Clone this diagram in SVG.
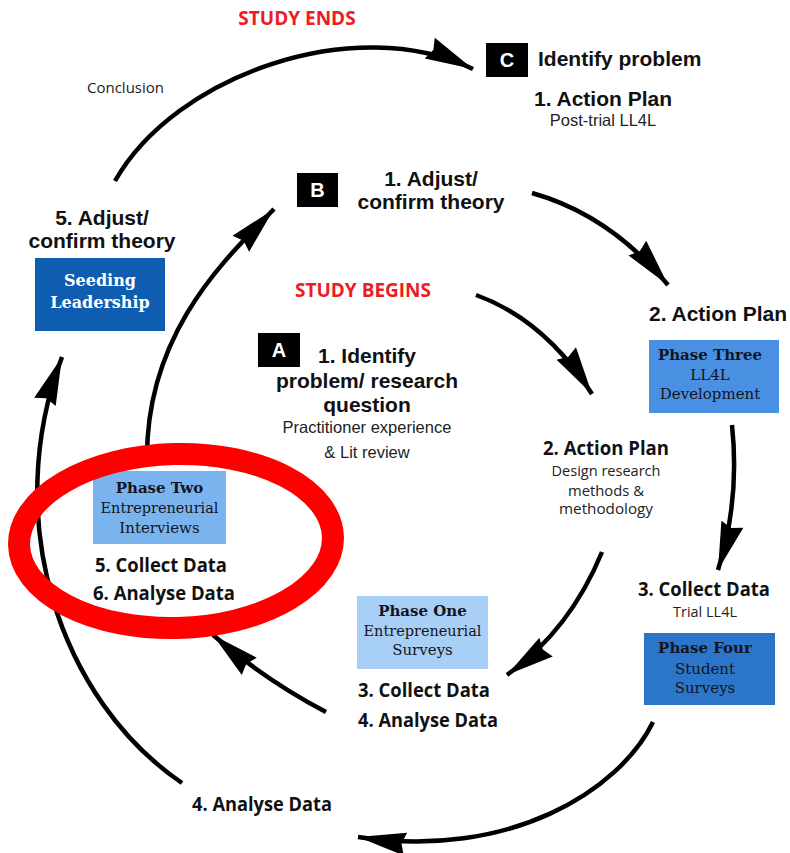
<svg xmlns="http://www.w3.org/2000/svg" width="790" height="853" viewBox="0 0 790 853">
<style>
.ab{font-family:"Liberation Sans",Arial,sans-serif;font-weight:bold;font-size:21px;fill:#111}
.ar{font-family:"Liberation Sans",Arial,sans-serif;font-size:16.5px;fill:#222}
.mb{font-family:"Open Sans","Liberation Sans",sans-serif;font-weight:bold;font-size:19px;fill:#111}
.mr{font-family:"Open Sans","Liberation Sans",sans-serif;font-size:14.5px;fill:#222}
.red{font-family:"Open Sans","Liberation Sans",sans-serif;font-weight:bold;font-size:19px;fill:#ed1c24}
.sb{font-family:"DejaVu Serif","Liberation Serif",serif;font-weight:bold;font-size:15px;fill:#141420}
.sr{font-family:"DejaVu Serif","Liberation Serif",serif;font-size:15px;fill:#141420}
.lt{font-family:"Liberation Sans",Arial,sans-serif;font-weight:bold;font-size:20px;fill:#fff}
.conn{fill:none;stroke:#000;stroke-width:4.5;marker-end:url(#ah)}
.c{text-anchor:middle}
</style>
<defs>
<marker id="ah" viewBox="-50 -13 52 26" refX="0" refY="0" markerWidth="52" markerHeight="26" markerUnits="userSpaceOnUse" orient="auto">
<path d="M0,0 L-48,-11.5 L-44,0 L-48,11.5 Z" fill="#000"/>
</marker>
</defs>
<rect width="790" height="853" fill="#fff"/>
<g id="connectors">
<path class="conn" d="M115,181 C175,75 355,12 473,69"/>
<path class="conn" d="M147,462 C145,330 230,255 274,209"/>
<path class="conn" d="M532,193 Q610,215 668,285"/>
<path class="conn" d="M476,295 Q545,320 592,394"/>
<path class="conn" d="M732,425 Q740,500 718,570"/>
<path class="conn" d="M602,552 Q570,630 507,675"/>
<path class="conn" d="M326,712 Q265,680 213,635"/>
<path class="conn" d="M182,783 C60,700 0,520 62,357"/>
<path class="conn" d="M653,722 C620,790 510,860 358,837"/>
</g>
<g id="study-ends"><text class="red c" x="297" y="25">STUDY ENDS</text></g>
<g id="conclusion"><text class="mr" x="87" y="93" style="font-size:15px">Conclusion</text></g>
<g id="node-C">
<rect x="486" y="43" width="42" height="34" fill="#000"/>
<text class="lt c" x="507" y="67">C</text>
<text class="ab" x="538" y="66">Identify problem</text>
<text class="ab c" x="603" y="106">1. Action Plan</text>
<text class="ar c" x="603" y="126">Post-trial LL4L</text>
</g>
<g id="node-B">
<rect x="297" y="173" width="41" height="34" fill="#000"/>
<text class="lt c" x="317.5" y="197">B</text>
<text class="ab c" x="431" y="186">1. Adjust/</text>
<text class="ab c" x="431" y="209">confirm theory</text>
</g>
<g id="node-left-adjust">
<text class="ab c" x="102" y="225">5. Adjust/</text>
<text class="ab c" x="102" y="248">confirm theory</text>
<rect x="35" y="258" width="130" height="73" fill="#0f5db0"/>
<text class="sb c" x="100" y="286" style="fill:#fff;font-size:16px">Seeding</text>
<text class="sb c" x="100" y="308" style="fill:#fff;font-size:16px">Leadership</text>
</g>
<g id="study-begins"><text class="red c" x="363" y="297">STUDY BEGINS</text></g>
<g id="node-A">
<rect x="258" y="333" width="42" height="34" fill="#000"/>
<text class="lt c" x="279" y="357">A</text>
<text class="ab c" x="367" y="363">1. Identify</text>
<text class="ab c" x="367" y="388">problem/ research</text>
<text class="ab c" x="367" y="412">question</text>
<text class="ar c" x="367" y="433">Practitioner experience</text>
<text class="ar c" x="367" y="458">&amp; Lit review</text>
</g>
<g id="node-right-plan">
<text class="ab c" x="718" y="321">2. Action Plan</text>
<rect x="649" y="340" width="130" height="73" fill="#4a90e2"/>
<text class="sb c" x="710" y="360">Phase Three</text>
<text class="sr c" x="710" y="380">LL4L</text>
<text class="sr c" x="710" y="399">Development</text>
</g>
<g id="node-mid-plan">
<text class="mb c" x="606" y="455" textLength="126" lengthAdjust="spacingAndGlyphs">2. Action Plan</text>
<text class="mr c" x="606" y="476" textLength="109" lengthAdjust="spacingAndGlyphs">Design research</text>
<text class="mr c" x="606" y="496" textLength="76" lengthAdjust="spacingAndGlyphs">methods &amp;</text>
<text class="mr c" x="606" y="514" textLength="94" lengthAdjust="spacingAndGlyphs">methodology</text>
</g>
<g id="node-phase-two">
<rect x="93" y="471" width="133" height="73" fill="#7ab4ef"/>
<text class="sb c" x="159.5" y="493">Phase Two</text>
<text class="sr c" x="159.5" y="513" textLength="118" lengthAdjust="spacingAndGlyphs">Entrepreneurial</text>
<text class="sr c" x="159.5" y="533">Interviews</text>
<text class="mb" x="95" y="572" textLength="132" lengthAdjust="spacingAndGlyphs">5. Collect Data</text>
<text class="mb" x="93" y="600" textLength="142" lengthAdjust="spacingAndGlyphs">6. Analyse Data</text>
</g>
<g id="node-right-collect">
<text class="mb" x="638" y="596" textLength="132" lengthAdjust="spacingAndGlyphs">3. Collect Data</text>
<text class="mr" x="673" y="617" style="font-size:15px" textLength="64" lengthAdjust="spacingAndGlyphs">Trial LL4L</text>
<rect x="644" y="633" width="131" height="72" fill="#2b76c8"/>
<text class="sb c" x="705" y="653">Phase Four</text>
<text class="sr c" x="705" y="674">Student</text>
<text class="sr c" x="705" y="693">Surveys</text>
</g>
<g id="node-phase-one">
<rect x="357" y="596" width="131" height="73" fill="#a8cff5"/>
<text class="sb c" x="422.5" y="616">Phase One</text>
<text class="sr c" x="422.5" y="636" textLength="118" lengthAdjust="spacingAndGlyphs">Entrepreneurial</text>
<text class="sr c" x="422.5" y="655">Surveys</text>
<text class="mb" x="358" y="697" textLength="132" lengthAdjust="spacingAndGlyphs">3. Collect Data</text>
<text class="mb" x="358" y="727" textLength="140" lengthAdjust="spacingAndGlyphs">4. Analyse Data</text>
</g>
<g id="node-bottom-analyse">
<text class="mb" x="192" y="811" textLength="140" lengthAdjust="spacingAndGlyphs">4. Analyse Data</text>
</g>
<g id="highlight">
<ellipse cx="176" cy="541" rx="157" ry="87" fill="none" stroke="#ff0000" stroke-width="22" transform="rotate(-1.5 176 541)"/>
</g>
</svg>
